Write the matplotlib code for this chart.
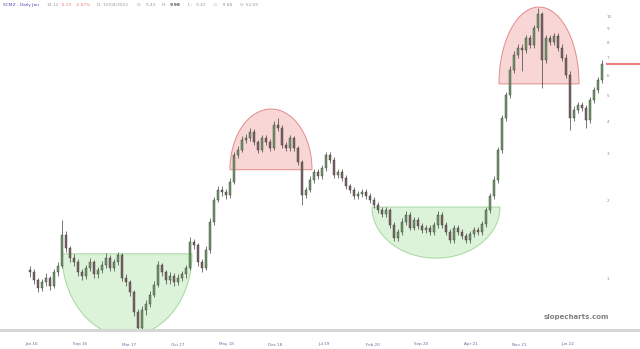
import numpy as np
import matplotlib.pyplot as plt
from matplotlib.lines import Line2D

# daily closes (price, log scale)
closes = [1.06, 0.99, 0.92, 0.97, 1.01, 0.94, 1.06, 1.12, 1.47, 1.31,
          1.20, 1.16, 1.06, 1.03, 1.10, 1.16, 1.04, 1.08, 1.13, 1.20,
          1.10, 1.16, 1.23, 1.01, 0.97, 0.89, 0.75, 0.65, 0.76, 0.80,
          0.87, 0.95, 1.13, 1.06, 0.99, 1.03, 0.97, 1.01, 1.04, 1.10,
          1.38, 1.35, 1.16, 1.10, 1.29, 1.65, 2.00, 2.19, 2.15, 2.09,
          2.35, 2.97, 3.11, 3.39, 3.45, 3.64, 3.33, 3.11, 3.45, 3.33,
          3.16, 3.87, 3.77, 3.25, 3.16, 3.45, 3.16, 2.80, 2.09, 2.19,
          2.39, 2.56, 2.47, 2.65, 2.97, 2.85, 2.49, 2.56, 2.43, 2.26,
          2.19, 2.07, 2.11, 2.15, 2.07, 2.00, 1.92, 1.83, 1.77, 1.83,
          1.61, 1.43, 1.51, 1.65, 1.76, 1.57, 1.68, 1.59, 1.54, 1.57,
          1.51, 1.61, 1.76, 1.61, 1.51, 1.41, 1.57, 1.51, 1.46, 1.41,
          1.48, 1.54, 1.51, 1.62, 1.83, 2.07, 2.39, 3.11, 4.12, 5.04,
          6.28, 7.16, 7.62, 7.48, 8.31, 7.82, 9.08, 10.27, 6.85, 8.31,
          8.03, 8.46, 7.62, 6.98, 6.01, 4.12, 4.42, 4.61, 4.49, 4.04,
          4.82, 5.26, 5.75, 6.62]
first_open = 1.08
highs = [1.12, 1.09, 1.01, 1.00, 1.05, 1.03, 1.09, 1.16, 1.68, 1.52,
         1.34, 1.24, 1.19, 1.09, 1.13, 1.20, 1.18, 1.11, 1.17, 1.25,
         1.23, 1.19, 1.27, 1.25, 1.04, 0.99, 0.91, 0.77, 0.79, 0.83,
         0.90, 0.98, 1.17, 1.15, 1.08, 1.06, 1.05, 1.04, 1.07, 1.13,
         1.45, 1.42, 1.37, 1.19, 1.33, 1.70, 2.06, 2.26, 2.26, 2.20,
         2.42, 3.06, 3.22, 3.50, 3.58, 3.76, 3.72, 3.40, 3.55, 3.55,
         3.42, 4.00, 4.12, 3.85, 3.33, 3.55, 3.52, 3.22, 2.85, 2.25,
         2.46, 2.63, 2.63, 2.72, 3.06, 3.05, 2.92, 2.63, 2.62, 2.49,
         2.31, 2.24, 2.17, 2.21, 2.20, 2.12, 2.05, 1.97, 1.88, 1.88,
         1.87, 1.65, 1.55, 1.70, 1.81, 1.80, 1.73, 1.72, 1.63, 1.61,
         1.61, 1.65, 1.81, 1.80, 1.65, 1.55, 1.61, 1.61, 1.55, 1.50,
         1.52, 1.58, 1.58, 1.66, 1.88, 2.13, 2.46, 3.20, 4.24, 5.19,
         6.47, 7.38, 7.85, 7.85, 8.56, 8.56, 9.35, 10.80, 10.40, 8.56,
         8.56, 8.71, 8.71, 7.85, 7.19, 6.19, 4.55, 4.75, 4.75, 4.62,
         4.96, 5.42, 5.92, 6.82]
lows = [1.02, 0.96, 0.89, 0.90, 0.94, 0.91, 0.92, 1.03, 1.10, 1.27,
        1.16, 1.12, 1.03, 0.99, 1.00, 1.07, 1.01, 1.01, 1.05, 1.10,
        1.07, 1.07, 1.13, 0.98, 0.94, 0.86, 0.72, 0.606, 0.63, 0.73,
        0.78, 0.85, 0.93, 1.03, 0.96, 0.96, 0.94, 0.95, 0.98, 1.01,
        1.08, 1.30, 1.12, 1.06, 1.08, 1.26, 1.61, 1.96, 2.08, 2.02,
        2.04, 2.30, 2.90, 3.04, 3.30, 3.37, 3.25, 3.03, 3.04, 3.25,
        3.08, 3.10, 3.66, 3.17, 3.07, 3.09, 3.08, 2.73, 1.92, 2.03,
        2.14, 2.33, 2.41, 2.41, 2.59, 2.78, 2.43, 2.43, 2.37, 2.20,
        2.13, 2.02, 2.02, 2.06, 2.02, 1.95, 1.87, 1.78, 1.72, 1.72,
        1.57, 1.39, 1.39, 1.47, 1.61, 1.53, 1.53, 1.55, 1.50, 1.50,
        1.47, 1.47, 1.57, 1.57, 1.47, 1.37, 1.37, 1.47, 1.42, 1.37,
        1.37, 1.44, 1.47, 1.47, 1.58, 1.78, 2.01, 2.33, 3.03, 4.01,
        4.90, 6.11, 6.97, 6.20, 7.28, 7.61, 7.61, 8.84, 5.36, 6.67,
        7.81, 7.81, 7.41, 6.79, 5.85, 3.70, 4.01, 4.30, 4.37, 3.77,
        3.93, 4.69, 5.12, 5.60]

date_labels = ['Jan 16', 'Sep 16', 'Mar 17', 'Oct 17', 'May 18', 'Dec 18',
               'Jul 19', 'Feb 20', 'Sep 20', 'Apr 21', 'Nov 21', 'Jun 22']
price_ticks = [1, 2, 3, 4, 5, 6, 7, 8, 9, 10]

# (start bar, end bar, rim price, tip price)
bowls = [(8, 40.5, 1.246, 0.606), (85.5, 117.5, 1.88, 1.20)]
domes = [(50, 70.5, 2.61, 4.45), (117.25, 137.25, 5.55, 10.9)]

closes = np.array(closes)
opens = np.concatenate([[first_open], closes[:-1]])
highs = np.array(highs)
lows = np.array(lows)
x = np.arange(len(closes))

fig = plt.figure(figsize=(6.4, 3.49), dpi=100)
ax = fig.add_axes([0, 19 / 349, 605 / 640, 330 / 349])
ax.set_yscale('log')


def arc(x0, x1, rim, tip, fc, ec):
    t = np.linspace(0, np.pi, 120)
    cx, a = (x0 + x1) / 2, (x1 - x0) / 2
    lr, lt = np.log10(rim), np.log10(tip)
    xs = cx - a * np.cos(t)
    ys = 10 ** (lr + (lt - lr) * np.sin(t))
    ax.fill(xs, ys, fc=fc, ec=ec, lw=0.7, zorder=1)


for b in bowls:
    arc(*b, fc='#dcf3d9', ec='#a3d89d')
for d in domes:
    arc(*d, fc='#f9d6d6', ec='#e38a8a')

# candles
up = closes >= opens
ax.vlines(x, lows, highs, color='#404040', lw=0.5, zorder=2)
ax.bar(x[up], (closes - opens)[up], bottom=opens[up], width=0.5,
       color='#6f9a66', edgecolor='#3a3a3a', lw=0.3, zorder=3)
ax.bar(x[~up], (opens - closes)[~up], bottom=closes[~up], width=0.5,
       color='#7d6464', edgecolor='#3a3a3a', lw=0.3, zorder=3)

ax.set_xlim(-7.5, 143.75)
ax.set_ylim(0.638, 11.6)

for s in ax.spines.values():
    s.set_visible(False)

ax.yaxis.tick_right()
ax.set_yticks(price_ticks)
ax.set_yticklabels([str(p) for p in price_ticks])
ax.yaxis.set_minor_locator(plt.NullLocator())
ax.tick_params(axis='y', length=0, pad=1, labelsize=3, labelcolor='#888888')

ax.set_xticks(np.arange(len(date_labels)) * 12.2 + 0.3)
ax.set_xticklabels(date_labels)
ax.tick_params(axis='x', length=0, pad=9, labelsize=3, labelcolor='#6a6aa0')

# last price marker
ax.plot([1.003, 1.06], [closes[-1], closes[-1]], color='#e8817d', lw=1.5,
        transform=ax.get_yaxis_transform(), clip_on=False, zorder=4)

# bottom band
fig.add_artist(Line2D([0, 1], [19 / 349, 19 / 349], color='#d6d6d6', lw=2.2))

fig.text(576 / 640, 1 - 317 / 349, 'slopecharts.com', ha='center', va='center',
         fontsize=5, color='#808080', fontweight='bold')

# header
hy = 1 - 5 / 349
parts = [(3, 'SCMZ - Daily Jan', '#4a4ab0', 'normal'),
         (47, '13.12', '#999999', 'normal'),
         (61, '-0.29', '#f08080', 'normal'),
         (76, '-0.87%', '#f08080', 'normal'),
         (97, 'D: 10/04/2022', '#999999', 'normal'),
         (137, 'O:   9.43', '#999999', 'normal'),
         (162, 'H:', '#999999', 'normal'),
         (170, '9.98', '#555555', 'bold'),
         (188, 'L:   9.41', '#999999', 'normal'),
         (214, 'C:   9.88', '#999999', 'normal'),
         (240, 'V: 52.69', '#999999', 'normal')]
for px, txt, c, w in parts:
    fig.text(px / 640, hy, txt, ha='left', va='center', fontsize=3.2,
             color=c, fontweight=w)

fig.savefig('out.png', dpi=100)
